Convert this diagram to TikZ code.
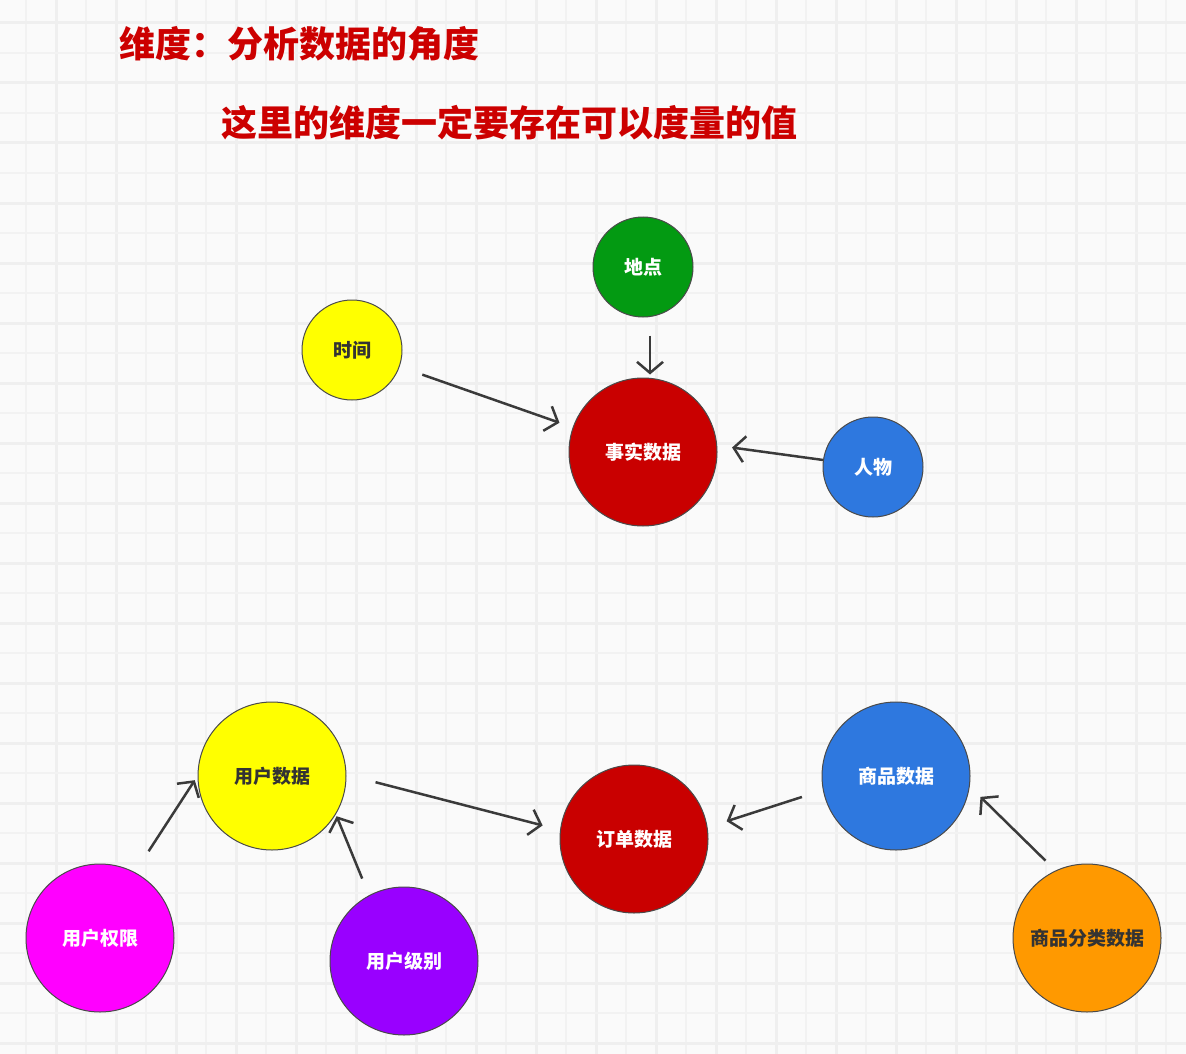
\documentclass[tikz,border=0pt]{standalone}
\usepackage{fontspec}
\newfontfamily\cjk{Noto Sans CJK SC}
\usetikzlibrary{arrows.meta}

\definecolor{paper}{HTML}{FAFAFA}
\definecolor{gridthin}{HTML}{F2F2F2}
\definecolor{gridthick}{HTML}{EFEFEF}
\definecolor{titlered}{HTML}{CC0000}
\definecolor{factred}{HTML}{C90000}
\definecolor{placegreen}{HTML}{039A12}
\definecolor{skyblue}{HTML}{2E78DF}
\definecolor{sunyellow}{HTML}{FFFF00}
\definecolor{pinkish}{HTML}{FF00FF}
\definecolor{violet}{HTML}{9900FF}
\definecolor{amber}{HTML}{FF9900}
\definecolor{inkdark}{HTML}{333333}
\definecolor{rim}{HTML}{4A4A4A}
\definecolor{wire}{HTML}{3A3A3A}

\tikzset{
  bubble/.style={circle, draw=rim, line width=1pt, inner sep=0pt,
    font=\cjk\bfseries\fontsize{19}{19}\selectfont},
  bigbubble/.style={bubble, minimum size=148pt},
  smallbubble/.style={bubble, minimum size=100pt},
  arr/.style={draw=wire, line width=2.5pt,
    -{Straight Barb[length=11pt,width=26pt]}},
  headline/.style={anchor=west, inner sep=0pt, text=titlered,
    font=\cjk\bfseries\fontsize{36}{36}\selectfont}
}

\begin{document}
\begin{tikzpicture}[x=1pt, y=-1pt]
  % canvas and grid
  \fill[paper] (0,0) rectangle (1186,1054);
  \useasboundingbox (0,0) rectangle (1186,1054);
  \foreach \gx in {26,86,...,1186} \draw[gridthin, line width=1.6pt] (\gx,0) -- (\gx,1054);
  \foreach \gx in {56,116,...,1186} \draw[gridthick, line width=3pt] (\gx,0) -- (\gx,1054);
  \foreach \gy in {53,113,...,1054} \draw[gridthin, line width=1.6pt] (0,\gy) -- (1186,\gy);
  \foreach \gy in {23,83,...,1054} \draw[gridthick, line width=3pt] (0,\gy) -- (1186,\gy);

  % headings
  \node[headline] (head1) at (119,44) {维度：分析数据的角度};
  \node[headline] (head2) at (221,123) {这里的维度一定要存在可以度量的值};

  % fact table with its dimensions
  \node[bigbubble, fill=factred, text=white] (fact) at (643,452) {事实数据};
  \node[smallbubble, fill=placegreen, text=white] (place) at (643,267) {地点};
  \node[smallbubble, fill=sunyellow, text=inkdark] (time) at (352,350) {时间};
  \node[smallbubble, fill=skyblue, text=white] (person) at (873,467) {人物};

  \draw[arr, shorten <=18pt, shorten >=3pt] ([xshift=7pt]place.south) -- ([xshift=7pt]fact.north);
  \draw[arr, shorten <=24pt, shorten >=14pt] (time) -- (fact);
  \draw[arr, shorten >=15pt] (person.172) -- (fact.5);

  % order example
  \node[bigbubble, fill=factred, text=white] (order) at (634,839) {订单数据};
  \node[bigbubble, fill=sunyellow, text=inkdark] (udata) at (272,776) {用户数据};
  \node[bigbubble, fill=pinkish, text=white] (uperm) at (100,938) {用户权限};
  \node[bigbubble, fill=violet, text=white] (ulevel) at (404,961) {用户级别};
  \node[bigbubble, fill=skyblue, text=white] (goods) at (896,776) {商品数据};
  \node[bigbubble, fill=amber, text=inkdark] (gcat) at (1087,938) {商品分类数据};

  \draw[arr, shorten <=25pt, shorten >=5pt] (uperm.62) -- (udata.180);
  \draw[arr, shorten <=18pt, shorten >=2pt] (ulevel.118) -- (udata.-31);
  \draw[arr, shorten <=30pt, shorten >=18pt] (udata.1) -- (order.173);
  \draw[arr, shorten <=22pt, shorten >=20pt] (goods.191) -- (order.9);
  \draw[arr, shorten <=14pt, shorten >=15pt] (gcat.115) -- (goods.-8);
\end{tikzpicture}
\end{document}
